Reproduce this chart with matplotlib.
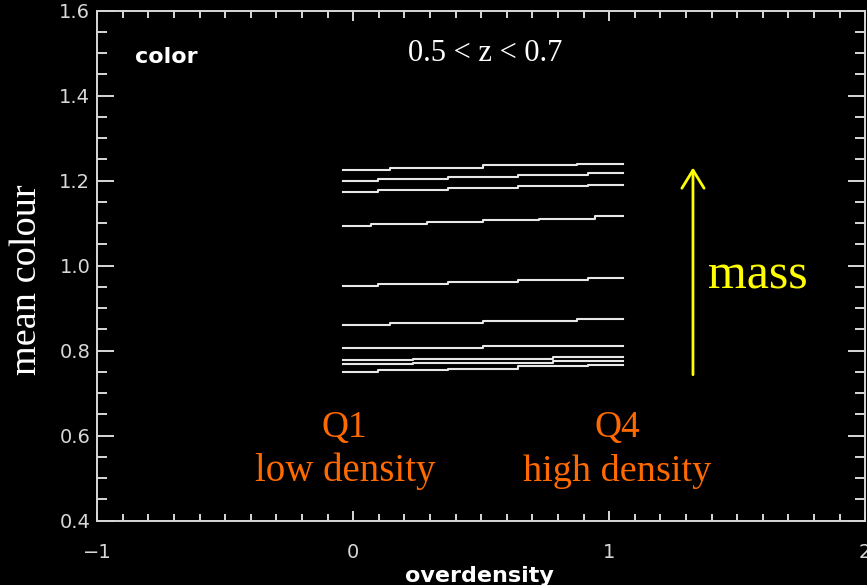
import numpy as np
import matplotlib
matplotlib.use("Agg")
import matplotlib.pyplot as plt
from matplotlib.ticker import MultipleLocator

# mean colour per overdensity bin, one entry per mass bin (low -> high mass)
colour_bins = [
    [0.750, 0.755, 0.758, 0.763, 0.767],
    [0.768, 0.772, 0.776],
    [0.777, 0.781, 0.785],
    [0.807, 0.811],
    [0.861, 0.866, 0.870, 0.874],
    [0.953, 0.958, 0.962, 0.967, 0.971],
    [1.093, 1.099, 1.103, 1.108, 1.111, 1.116],
    [1.173, 1.178, 1.183, 1.187, 1.191],
    [1.200, 1.205, 1.209, 1.214, 1.218],
    [1.226, 1.231, 1.236, 1.240],
]
delta_lo, delta_hi = -0.041, 1.055   # overdensity range covered by the bins

x_ticks = [-1, 0, 1, 2]
y_ticks = [0.4, 0.6, 0.8, 1.0, 1.2, 1.4, 1.6]

serif = "Liberation Serif"
grey = "#d8d8d8"
orange = "#ff6a00"

fig = plt.figure(figsize=(8.67, 5.85), dpi=100, facecolor="black")
ax = fig.add_axes([0.1122, 0.1099, 0.8858, 0.8718], facecolor="black")

for vals in colour_bins:
    xs = np.linspace(delta_lo, delta_hi, len(vals))
    ax.plot(xs, vals, drawstyle="steps-mid", color="#e8e8e8", lw=1.5)

ax.set_xlim(-1, 2)
ax.set_ylim(0.4, 1.6)
ax.set_xticks(x_ticks)
ax.set_yticks(y_ticks)
ax.set_xticklabels(["\u22121", "0", "1", "2"])
ax.set_yticklabels([f"{v:.1f}" for v in y_ticks])
ax.xaxis.set_minor_locator(MultipleLocator(0.1))
ax.yaxis.set_minor_locator(MultipleLocator(0.05))

for s in ax.spines.values():
    s.set_color(grey)
    s.set_linewidth(1.4)
ax.tick_params(which="both", direction="in", top=True, right=True, color=grey,
               width=1.4, labelcolor=grey, labelsize=14)
ax.tick_params(axis="x", which="major", length=7.2, pad=16)
ax.tick_params(axis="x", which="minor", length=4.8)
ax.tick_params(axis="y", which="major", length=12, pad=5)
ax.tick_params(axis="y", which="minor", length=7)

# panel labels
ax.text(-0.853, 1.478, "color", color="white", fontsize=16, fontweight="bold",
        family="DejaVu Sans", va="baseline")
ax.text(0.514, 1.482, "0.5 < z < 0.7", color="white", fontsize=22, family=serif,
        ha="center", va="baseline")

# density quartile annotations
ax.text(-0.033, 0.598, "Q1", color=orange, fontsize=27, family=serif, ha="center", va="baseline")
ax.text(-0.033, 0.4925, "low density", color=orange, fontsize=28, family=serif,
        ha="center", va="baseline")
ax.text(1.032, 0.598, "Q4", color=orange, fontsize=27, family=serif, ha="center", va="baseline")
ax.text(1.032, 0.4925, "high density", color=orange, fontsize=27.5, family=serif,
        ha="center", va="baseline")

# mass arrow
ax.annotate("", xy=(1.327, 1.231), xytext=(1.327, 0.7435),
            arrowprops=dict(arrowstyle="->,head_length=0.65,head_width=0.4",
                            color="#ffff00", lw=2, mutation_scale=20,
                            shrinkA=0, shrinkB=0))
ax.text(1.386, 0.946, "mass", color="#ffff00", fontsize=36, family=serif, va="baseline")

fig.text(27 / 867, 1 - 280 / 585, "mean colour", color="white", fontsize=27.5, family=serif,
         rotation=90, ha="center", va="center")
fig.text(479 / 867, 1 - 582 / 585, "overdensity", color="white", fontsize=16,
         fontweight="bold", family="DejaVu Sans", ha="center", va="baseline")

fig.savefig("out.png", dpi=100, facecolor="black")
